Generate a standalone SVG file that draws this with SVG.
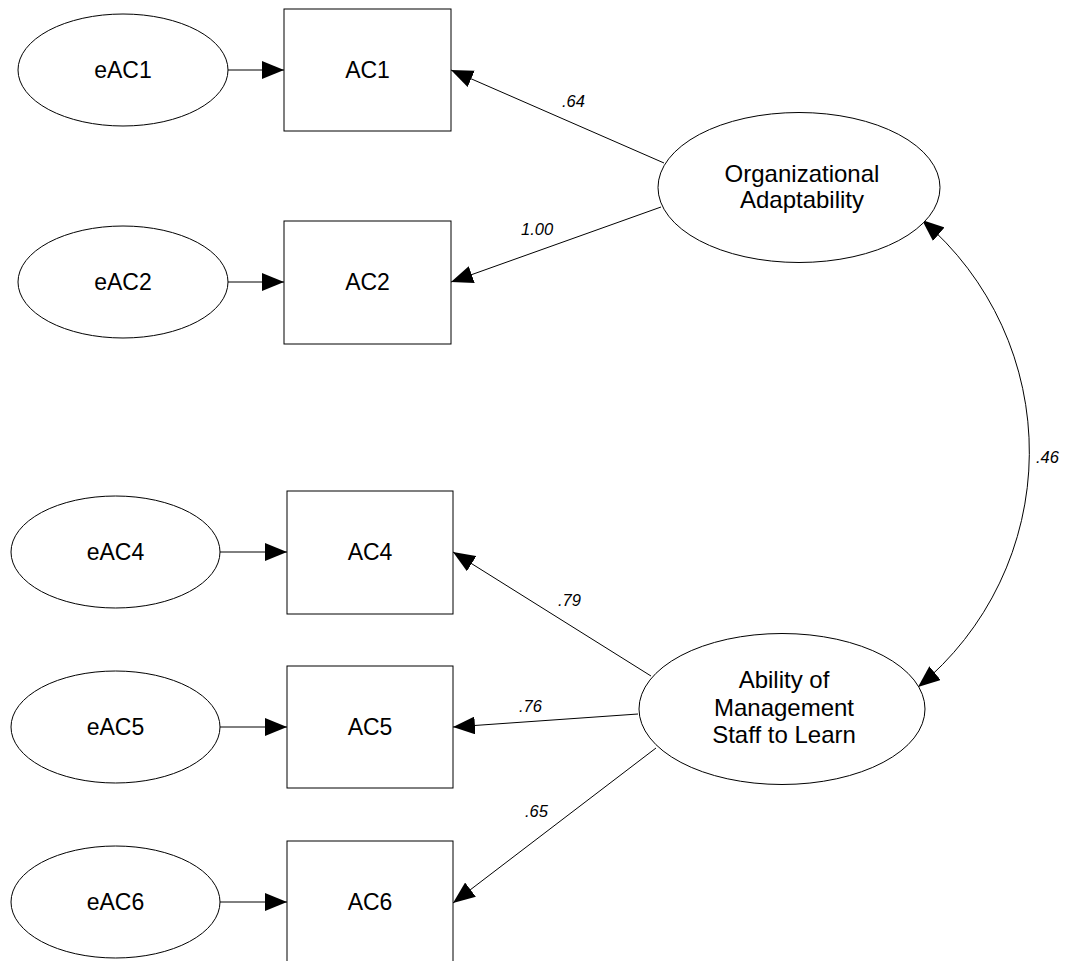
<svg xmlns="http://www.w3.org/2000/svg" width="1070" height="961" viewBox="0 0 1070 961">
  <defs>
    <marker id="arrow" markerUnits="userSpaceOnUse" markerWidth="22" markerHeight="18" viewBox="0 0 21 17" refX="21" refY="8.5" orient="auto-start-reverse">
      <path d="M0,0 L21,8.5 L0,17 Z" fill="#000"/>
    </marker>
    <style>
      .node { fill: #fff; stroke: #000; stroke-width: 1; }
      .lbl { font-family: "Liberation Sans", Arial, sans-serif; font-size: 23px; fill: #000; text-anchor: middle; }
      .big { font-size: 24px; }
      .coef { font-family: "Liberation Sans", Arial, sans-serif; font-size: 16.5px; font-style: italic; fill: #000; }
      .edge { fill: none; stroke: #000; stroke-width: 1; marker-end: url(#arrow); }
    </style>
  </defs>
  <rect width="1070" height="961" fill="#fff"/>

  <!-- paths: error terms to indicators, latent factors to indicators, factor covariance -->
  <g id="connectors">
    <line class="edge" x1="228" y1="70" x2="284" y2="70"/>
    <line class="edge" x1="228" y1="282" x2="284" y2="282"/>
    <line class="edge" x1="220" y1="552" x2="287" y2="552"/>
    <line class="edge" x1="220" y1="727" x2="287" y2="727"/>
    <line class="edge" x1="220" y1="902" x2="287" y2="902"/>

    <line class="edge" x1="664" y1="163" x2="451" y2="70"/>
    <line class="edge" x1="661" y1="207" x2="451" y2="282"/>
    <line class="edge" x1="651" y1="676" x2="453" y2="552"/>
    <line class="edge" x1="638" y1="714" x2="453" y2="727"/>
    <line class="edge" x1="656" y1="748" x2="453" y2="903"/>

    <path class="edge" style="marker-start: url(#arrow)" d="M922,220 A304,304 0 0 1 918,687"/>

    <text class="coef" x="562" y="107">.64</text>
    <text class="coef" x="521" y="235">1.00</text>
    <text class="coef" x="558" y="606">.79</text>
    <text class="coef" x="519" y="712">.76</text>
    <text class="coef" x="525" y="817">.65</text>
    <text class="coef" x="1036" y="463">.46</text>
  </g>

  <!-- error terms -->
  <g id="eAC1"><ellipse class="node" cx="123" cy="70" rx="105" ry="56"/><text class="lbl" x="123" y="78">eAC1</text></g>
  <g id="eAC2"><ellipse class="node" cx="123" cy="282" rx="105" ry="56"/><text class="lbl" x="123" y="290">eAC2</text></g>
  <g id="eAC4"><ellipse class="node" cx="115.5" cy="552" rx="104.5" ry="56"/><text class="lbl" x="115.5" y="560">eAC4</text></g>
  <g id="eAC5"><ellipse class="node" cx="115.5" cy="727" rx="104.5" ry="56"/><text class="lbl" x="115.5" y="735">eAC5</text></g>
  <g id="eAC6"><ellipse class="node" cx="115.5" cy="902" rx="104.5" ry="56"/><text class="lbl" x="115.5" y="910">eAC6</text></g>

  <!-- observed indicators -->
  <g id="AC1"><rect class="node" x="284" y="9" width="167" height="122"/><text class="lbl" x="367.5" y="78">AC1</text></g>
  <g id="AC2"><rect class="node" x="284" y="221" width="167" height="123"/><text class="lbl" x="367.5" y="290">AC2</text></g>
  <g id="AC4"><rect class="node" x="287" y="491" width="166" height="123"/><text class="lbl" x="370" y="560">AC4</text></g>
  <g id="AC5"><rect class="node" x="287" y="666" width="166" height="122"/><text class="lbl" x="370" y="735">AC5</text></g>
  <g id="AC6"><rect class="node" x="287" y="841" width="166" height="130"/><text class="lbl" x="370" y="910">AC6</text></g>

  <!-- latent factors -->
  <g id="OrganizationalAdaptability">
    <ellipse class="node" cx="799" cy="187.5" rx="141" ry="75"/>
    <text class="lbl big" x="802" y="182">Organizational</text>
    <text class="lbl big" x="802" y="208">Adaptability</text>
  </g>
  <g id="AbilityToLearn">
    <ellipse class="node" cx="782" cy="709" rx="143" ry="75.5"/>
    <text class="lbl big" x="784" y="688">Ability of</text>
    <text class="lbl big" x="784" y="715.5">Management</text>
    <text class="lbl big" x="784" y="743">Staff to Learn</text>
  </g>
</svg>
